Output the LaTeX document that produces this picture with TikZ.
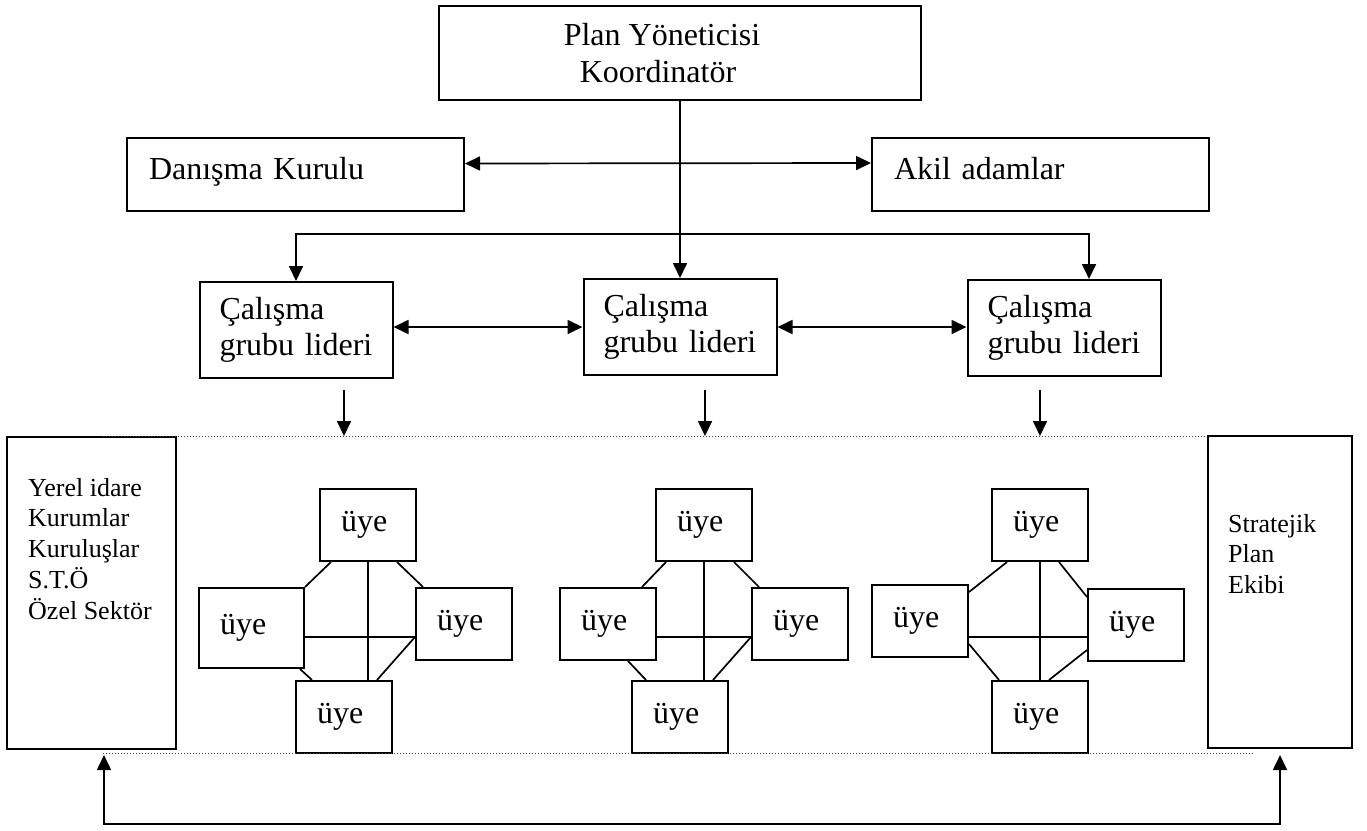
\documentclass[tikz,border=0pt]{standalone}
\usepackage{fontspec}
\setmainfont{Liberation Serif}
\usetikzlibrary{arrows.meta,calc}

\begin{document}
\begin{tikzpicture}[
  x=1pt, y=-1pt,
  font=\fontsize{32}{36}\selectfont,
  box/.style ={draw, line width=2pt, inner ysep=0pt, align=left},
  wide/.style={box, minimum width=337pt, minimum height=73pt, inner xsep=22pt, text width=293pt, text depth=12pt},
  lead/.style={box, minimum width=193pt, minimum height=96pt, inner xsep=20pt, text width=153pt},
  uye/.style ={box, minimum width=96pt, minimum height=72pt, inner xsep=21pt, text width=54pt},
  side/.style={box, minimum height=312pt},
  txt/.style ={anchor=north west, inner sep=0pt, align=left, font=\fontsize{26}{30.7}\selectfont},
  ar/.style  ={-{Triangle[length=15pt,width=14pt]}, line width=1.7pt},
  dar/.style ={{Triangle[length=15pt,width=14pt]}-{Triangle[length=15pt,width=14pt]}, line width=1.7pt},
  link/.style={line width=1.7pt},
  dots/.style={line width=1pt, black!75, dash pattern=on 1pt off 2pt},
]
\useasboundingbox (0,0) rectangle (1367,830);

% --- top levels ---
\node[box, align=center, font=\fontsize{32}{37}\selectfont, minimum width=482pt, minimum height=94pt] (coord) at (680,53)
  {Plan Yöneticisi\hspace*{36pt}\\Koordinatör\hspace*{44pt}};
\node[wide] (danisma) at (295.5,174.5) {Danışma Kurulu};
\node[wide] (akil)    at (1040.5,174) {Akil adamlar};

% --- group leaders ---
\node[lead] (lead1) at (296,330)  {Çalışma\\grubu lideri};
\node[lead] (lead2) at (680,327)  {Çalışma\\grubu lideri};
\node[lead] (lead3) at (1064,328) {Çalışma\\grubu lideri};

% --- side boxes ---
\node[side, minimum width=169pt,
  label={[txt, xshift=22pt, yshift=-42pt]north west:Yerel idare\\Kurumlar\\Kuruluşlar\\S.T.Ö\\Özel Sektör}]
  (local) at (91.5,593) {};
\node[side, minimum width=144pt,
  label={[txt, xshift=21pt, yshift=-79pt]north west:Stratejik\\Plan\\Ekibi}]
  (team) at (1280,592) {};

% --- members, group 1 ---
\node[uye] (m1t) at (368,525) {üye};
\node[uye, text width=63pt, minimum height=80pt] (m1l) at (251.5,628) {üye};
\node[uye] (m1r) at (464,624) {üye};
\node[uye] (m1b) at (344,717) {üye};
\coordinate (m1c) at (368,637);

% --- members, group 2 ---
\node[uye] (m2t) at (704,525) {üye};
\node[uye] (m2l) at (608,624) {üye};
\node[uye] (m2r) at (800,624) {üye};
\node[uye] (m2b) at (680,717) {üye};
\coordinate (m2c) at (704,637);

% --- members, group 3 ---
\node[uye] (m3t) at (1040,525) {üye};
\node[uye] (m3l) at (920,621)  {üye};
\node[uye] (m3r) at (1136,625) {üye};
\node[uye] (m3b) at (1040,717) {üye};
\coordinate (m3c) at (1040,637);

% --- frame lines ---
\coordinate (topdot) at (103,436);
\coordinate (botdot) at (103,753);
\coordinate (split)  at (680,234);
\draw[dots] (topdot) -- (topdot -| team.west);
\draw[dots] (botdot) -- ++(1151,0);

% --- edges ---
\draw[ar]  (coord.south) -- (lead2.north);
\draw[dar] ([yshift=11pt]danisma.east) -- ([yshift=11pt]akil.west);
\draw[ar]  (split) -| (lead1.north);
\draw[ar]  (split) -| ([xshift=25pt]lead3.north);
\draw[dar] (lead1.east |- lead2.west) -- (lead2.west);
\draw[dar] (lead2.east) -- (lead2.east -| lead3.west);
\draw[ar]  ([xshift=48pt,yshift=-11pt]lead1.south) -- ++(0,46);
\draw[ar]  ([xshift=25pt,yshift=-14pt]lead2.south) -- ++(0,46);
\draw[ar]  ([xshift=-24pt,yshift=-13pt]lead3.south) -- ++(0,46);
\draw[dar] ([xshift=12.5pt,yshift=-5pt]local.south) -- ++(0,69) -| ([yshift=-6pt]team.south);

% group 1 links
\draw[link] (m1t.south) -- (m1t.south |- m1b.north);
\draw[link] (m1l.east |- m1c) -- (m1r.west |- m1c);
\draw[link] ([xshift=12pt]m1t.south west) -- (m1l.north east);
\draw[link] ([xshift=-20pt]m1t.south east) -- ([xshift=8pt]m1r.north west);
\draw[link] ([xshift=-5pt]m1l.south east) -- ([xshift=17pt]m1b.north west);
\draw[link] (m1r.west |- m1c) -- ([xshift=-16pt]m1b.north east);

% group 2 links
\draw[link] (m2t.south) -- (m2t.south |- m2b.north);
\draw[link] (m2l.east |- m2c) -- (m2r.west |- m2c);
\draw[link] ([xshift=11pt]m2t.south west) -- ([xshift=-15pt]m2l.north east);
\draw[link] ([xshift=-19pt]m2t.south east) -- ([xshift=8pt]m2r.north west);
\draw[link] ([xshift=-29pt]m2l.south east) -- ([xshift=15pt]m2b.north west);
\draw[link] (m2r.west |- m2c) -- ([xshift=-16pt]m2b.north east);

% group 3 links
\draw[link] (m3t.south) -- (m3t.south |- m3b.north);
\draw[link] (m3l.east |- m3c) -- (m3r.west |- m3c);
\draw[link] ([xshift=16pt]m3t.south west) -- ([yshift=-8pt]m3l.north east);
\draw[link] ([xshift=-30pt]m3t.south east) -- ([yshift=-9pt]m3r.north west);
\draw[link] ([yshift=14pt]m3l.south east) -- ([xshift=8pt]m3b.north west);
\draw[link] ([yshift=12pt]m3r.south west) -- ([xshift=-40pt]m3b.north east);
\end{tikzpicture}
\end{document}
